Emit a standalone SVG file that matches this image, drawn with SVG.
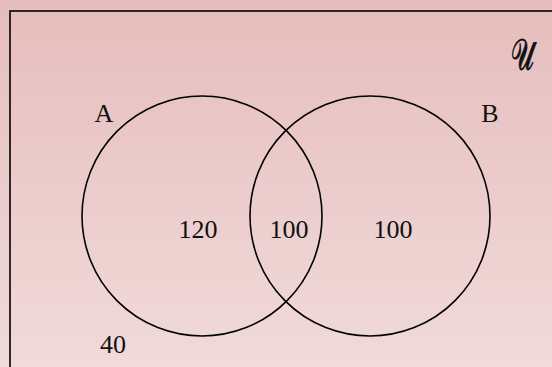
<svg xmlns="http://www.w3.org/2000/svg" width="552" height="367" viewBox="0 0 552 367">
<defs>
<linearGradient id="bg" x1="0" y1="0" x2="0" y2="1">
<stop offset="0" stop-color="#e6bdbd"/>
<stop offset="1" stop-color="#f1dada"/>
</linearGradient>
</defs>
<style>
.t{font-family:"Liberation Serif","Times New Roman",serif;font-size:26px;fill:#111}
.c{fill:none;stroke:#000;stroke-width:1.6}
</style>
<rect x="0" y="0" width="552" height="367" fill="url(#bg)"/>
<rect x="10" y="11" width="560" height="380" fill="none" stroke="#000" stroke-width="1.6"/>
<g id="setA">
<circle class="c" cx="202" cy="216" r="120"/>
<text class="t" x="104" y="122" text-anchor="middle">A</text>
</g>
<g id="setB">
<circle class="c" cx="370" cy="216" r="120"/>
<text class="t" x="490" y="122" text-anchor="middle">B</text>
</g>
<g id="labels">
<text class="t" x="198" y="238" text-anchor="middle">120</text>
<text class="t" x="289" y="238" text-anchor="middle">100</text>
<text class="t" x="393" y="238" text-anchor="middle">100</text>
<text class="t" x="113" y="353" text-anchor="middle">40</text>
</g>
<g id="universe">
<text transform="translate(522,70) scale(0.75,1.3)" x="0" y="0" text-anchor="middle" style="font-family:'DejaVu Serif','Noto Sans',serif;font-size:34px;fill:#111;stroke:#111;stroke-width:0.8">𝒰</text>
</g>
</svg>
